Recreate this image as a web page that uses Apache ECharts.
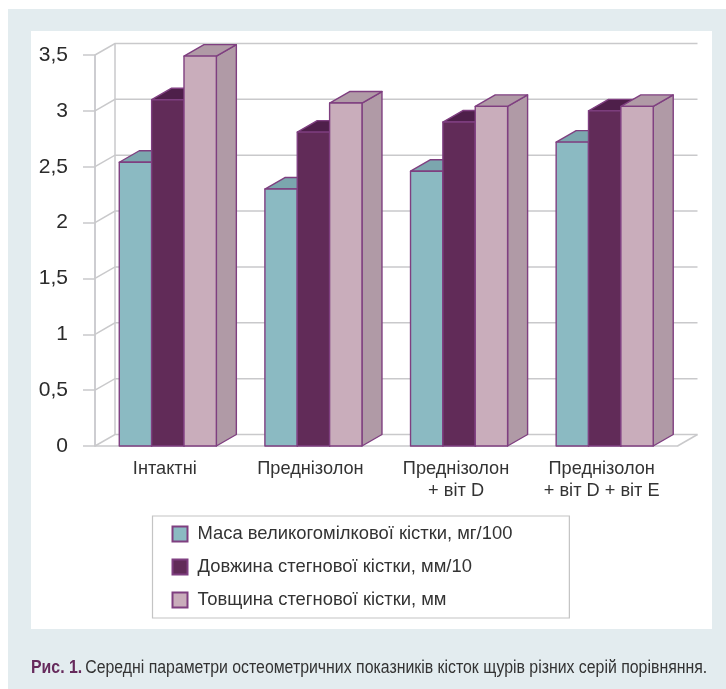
<!DOCTYPE html>
<html lang="uk">
<head>
<meta charset="utf-8">
<title>Остеометричні показники</title>
<style>html,body{margin:0;padding:0;background:#fff}#chart{width:726px;height:689px}</style>
<script src="https://cdn.jsdelivr.net/npm/echarts@6/dist/echarts.min.js"></script>
</head>
<body>
<div id="chart"></div>
<script>
const categories = ['Інтактні', 'Преднізолон', 'Преднізолон\n+ віт D', 'Преднізолон\n+ віт D + віт E'];
const massValues = [2.54, 2.30, 2.46, 2.72];
const lengthValues = [3.10, 2.81, 2.90, 3.00];
const thicknessValues = [3.49, 3.07, 3.04, 3.04];
const seriesNames = ['Маса великогомілкової кістки, мг/100', 'Довжина стегнової кістки, мм/10', 'Товщина стегнової кістки, мм'];
const yTicks = [0, 0.5, 1, 1.5, 2, 2.5, 3, 3.5];
const captionLead = 'Рис. 1.';
const captionText = 'Середні параметри остеометричних показників кісток щурів різних серій порівняння.';

const FONT = 'Liberation Sans';

// Pseudo-3D projection and the face colours of each bar
const DEPTH_X = 20, DEPTH_Y = 11.5;
const BAR_SHARE = 0.2222;
const EDGE = '#7f3f80';
const WALL = '#c9c9cb';
const faces = [
  { front: '#8bbac2', top: '#7ba6ae', side: '#7ba6ae' },
  { front: '#612b58', top: '#4e1f4a', side: '#4e1f4a' },
  { front: '#c9adbb', top: '#b09aa6', side: '#b09aa6' }
];

function barItem(seriesIndex) {
  return function (params, api) {
    const base = api.coord([api.value(0), 0]);
    const peak = api.coord([api.value(0), api.value(1)]);
    const w = api.size([1, 0])[0] * BAR_SHARE;
    const x0 = base[0] + (seriesIndex - 1.5) * w;
    const x1 = x0 + w;
    const edge = { stroke: EDGE, lineWidth: 1.4, lineJoin: 'round' };
    const c = faces[seriesIndex];
    return {
      type: 'group',
      children: [
        { type: 'polygon', shape: { points: [[x1, base[1]], [x1 + DEPTH_X, base[1] - DEPTH_Y], [x1 + DEPTH_X, peak[1] - DEPTH_Y], [x1, peak[1]]] }, style: { fill: c.side, ...edge } },
        { type: 'polygon', shape: { points: [[x0, peak[1]], [x0 + DEPTH_X, peak[1] - DEPTH_Y], [x1 + DEPTH_X, peak[1] - DEPTH_Y], [x1, peak[1]]] }, style: { fill: c.top, ...edge } },
        { type: 'rect', shape: { x: x0, y: peak[1], width: w, height: base[1] - peak[1] }, style: { fill: c.front, ...edge } }
      ]
    };
  };
}

// Back wall and floor: each y tick is carried back and across the wall
function wallItem(params, api) {
  const cs = params.coordSys;
  const y = api.coord([0, api.value(0)])[1];
  const left = cs.x, right = cs.x + cs.width;
  const line = { stroke: WALL, lineWidth: 1.5, fill: 'none' };
  const children = [
    { type: 'polyline', shape: { points: [[left, y], [left + DEPTH_X, y - DEPTH_Y], [right + DEPTH_X, y - DEPTH_Y]] }, style: line }
  ];
  if (api.value(0) === 0) {
    children.push({ type: 'line', shape: { x1: left + DEPTH_X, y1: y - DEPTH_Y, x2: left + DEPTH_X, y2: cs.y - DEPTH_Y }, style: line });
    children.push({ type: 'line', shape: { x1: right, y1: y, x2: right + DEPTH_X, y2: y - DEPTH_Y }, style: line });
  }
  return { type: 'group', children };
}

const valueSets = [massValues, lengthValues, thicknessValues];

const option = {
  animation: false,
  grid: { left: 95, right: 48.5, top: 55, bottom: 243 },
  xAxis: {
    type: 'category',
    data: categories,
    axisLine: { lineStyle: { color: WALL, width: 1.5 } },
    axisTick: { length: 7, lineStyle: { color: WALL, width: 1.5 } },
    axisLabel: { color: '#333', fontFamily: FONT, fontSize: 18.2, margin: 12, lineHeight: 22, interval: 0, padding: [0, 6, 0, 0] }
  },
  yAxis: {
    type: 'value',
    min: 0,
    max: 3.5,
    interval: 0.5,
    axisLine: { show: true, lineStyle: { color: '#bdbdc2', width: 1.5 } },
    axisTick: { show: true, length: 12, lineStyle: { color: WALL, width: 1.5 } },
    splitLine: { show: false },
    axisLabel: {
      color: '#2b2b2b',
      fontFamily: FONT,
      fontSize: 21,
      margin: 27,
      formatter: v => String(v).replace('.', ',')
    }
  },
  legend: {
    data: seriesNames,
    orient: 'vertical',
    icon: 'rect',
    left: 152.5,
    top: 516,
    padding: [8, 57, 8, 19],
    itemGap: 13,
    itemWidth: 15,
    itemHeight: 15,
    backgroundColor: '#fff',
    borderColor: '#c4c4c4',
    borderWidth: 1.2,
    textStyle: { color: '#333', fontFamily: FONT, fontSize: 18.4, lineHeight: 20, padding: [0, 0, 0, 5] }
  },
  graphic: [
    { type: 'rect', z: -20, shape: { x: 8, y: 9, width: 718, height: 680 }, style: { fill: '#e3ecef' } },
    { type: 'rect', z: -19, shape: { x: 31, y: 31, width: 681, height: 598 }, style: { fill: '#fff' } },
    {
      type: 'text',
      x: 31,
      y: 668.5,
      scaleX: 0.906,
      style: {
        verticalAlign: 'middle',
        rich: {
          lead: { fontFamily: FONT, fontSize: 17.5, fontWeight: 'bold', fill: '#662a5c' },
          body: { fontFamily: FONT, fontSize: 17.5, fill: '#333' }
        },
        text: '{lead|' + captionLead + '} {body|' + captionText + '}'
      }
    }
  ],
  series: [
    {
      type: 'custom',
      silent: true,
      z: 1,
      clip: false,
      coordinateSystem: 'cartesian2d',
      renderItem: wallItem,
      encode: { y: 0 },
      data: yTicks.map(v => [v])
    },
    ...seriesNames.map((name, s) => ({
      type: 'custom',
      name,
      z: 2 + s,
      clip: false,
      coordinateSystem: 'cartesian2d',
      renderItem: barItem(s),
      encode: { x: 0, y: 1 },
      itemStyle: { color: faces[s].front, borderColor: EDGE, borderWidth: 1.4 },
      data: valueSets[s].map((v, i) => [i, v])
    }))
  ]
};

echarts.init(document.getElementById('chart'), null, { renderer: 'canvas' }).setOption(option);
</script>
</body>
</html>
